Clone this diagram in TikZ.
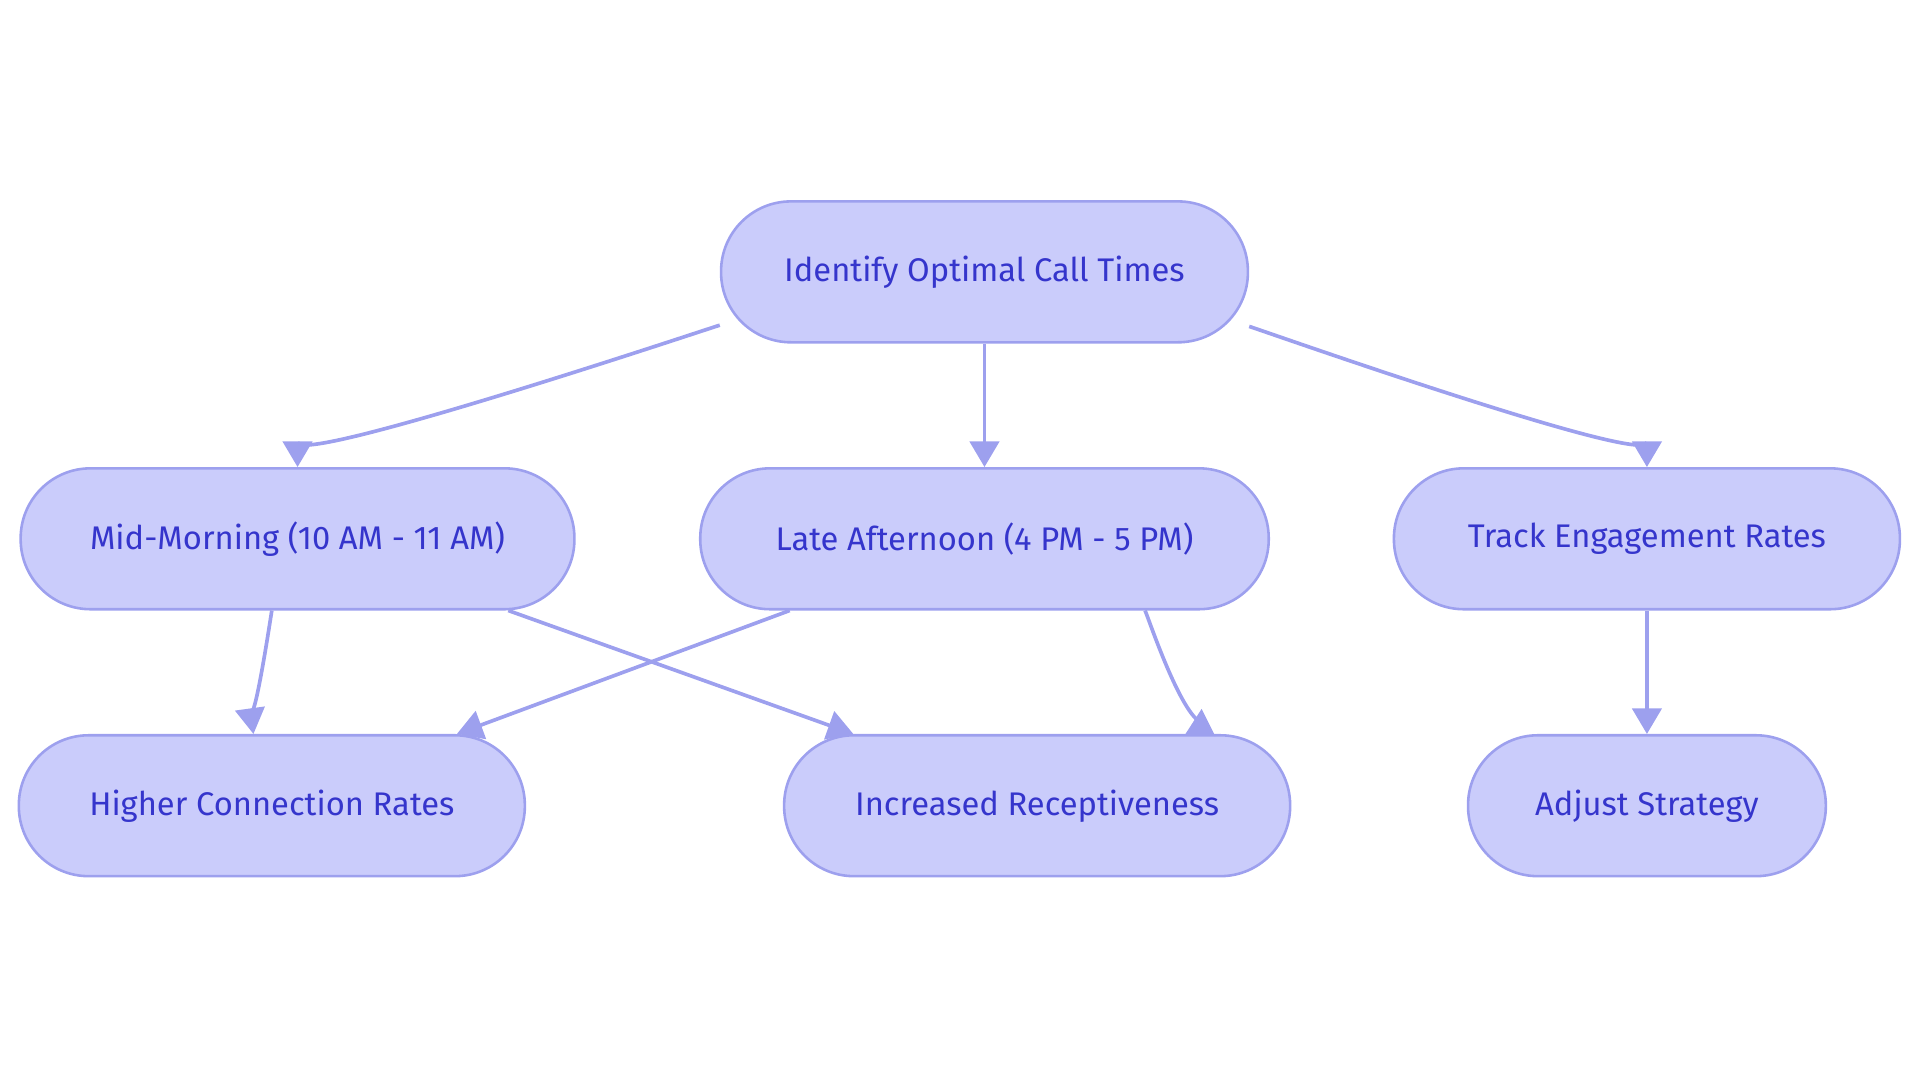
\documentclass[tikz,border=0pt]{standalone}
\usepackage{fontspec}
\setmainfont{Fira Sans}
\usetikzlibrary{arrows.meta}
\definecolor{boxfill}{HTML}{CACCFB}
\definecolor{boxline}{HTML}{9DA0EE}
\definecolor{boxtext}{HTML}{3535CC}
\tikzset{
  stage/.style={draw=boxline, fill=boxfill, line width=0.6pt, rounded corners=0.57cm,
    minimum height=1.15cm, text=boxtext, font=\fontsize{7.6}{9}\selectfont},
  link/.style={draw=boxline, line width=0.85pt, -{Triangle[length=0.21cm,width=0.24cm]}}
}
\begin{document}
\begin{tikzpicture}[x=0.01cm,y=-0.01cm]
  \useasboundingbox (0,0) rectangle (1568,884);

  \node[stage, minimum width=4.30cm] (top) at (804,222) {Identify Optimal Call Times};
  \node[stage, minimum width=4.52cm] (mid) at (243,440) {Mid-Morning (10 AM - 11 AM)};
  \node[stage, minimum width=4.64cm] (late) at (804,440) {Late Afternoon (4 PM - 5 PM)};
  \node[stage, minimum width=4.13cm] (track) at (1345,440) {Track Engagement Rates};
  \node[stage, minimum width=4.13cm] (higher) at (222,658) {Higher Connection Rates};
  \node[stage, minimum width=4.13cm] (recept) at (847,658) {Increased Receptiveness};
  \node[stage, minimum width=2.92cm] (adjust) at (1345,658) {Adjust Strategy};

  % from the top box
  \draw[link] ([yshift=0.15cm]top.south west) .. controls +(-3.2,0.65) and +(0,-0.35) .. (mid.north);
  \draw[link] (top) -- (late);
  \draw[link] ([yshift=0.14cm]top.south east) .. controls +(3.2,0.65) and +(0,-0.35) .. (track.north);

  % second row
  \draw[link] ([xshift=-0.21cm]mid.south) .. controls +(-0.17,0.47) and +(-0.05,-0.36) .. ([xshift=-0.15cm]higher.north);
  \draw[link] ([xshift=1.72cm]mid.south) -- ([xshift=-1.50cm]recept.north);
  \draw[link] ([xshift=-1.59cm]late.south) -- ([xshift=1.51cm]higher.north);
  \draw[link] ([xshift=1.31cm]late.south) .. controls +(1.05,0.47) and +(0.6,-0.3) .. ([xshift=1.21cm]recept.north);
  \draw[link] (track) -- (adjust);
\end{tikzpicture}
\end{document}
